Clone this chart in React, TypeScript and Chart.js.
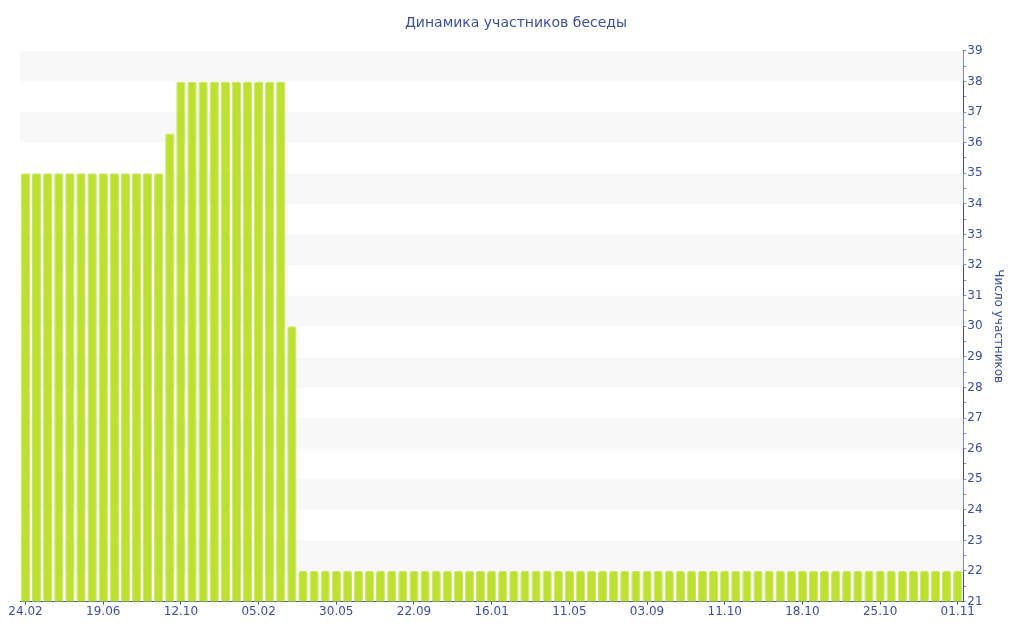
import React, { useEffect, useRef } from "react";
import { Chart, registerables } from "chart.js";

Chart.register(...registerables);

const TITLE = "Динамика участников беседы";
const Y_TITLE = "Число участников";

const tickLabels = ["24.02", "19.06", "12.10", "05.02", "30.05", "22.09", "16.01", "11.05", "03.09", "11.10", "18.10", "25.10", "01.11"];
const tickEvery = 7;

const values = [
  35, 35, 35, 35, 35, 35, 35, 35, 35, 35, 35, 35, 35,
  36.3,
  38, 38, 38, 38, 38, 38, 38, 38, 38, 38,
  30,
  22, 22, 22, 22, 22, 22, 22, 22, 22, 22,
  22, 22, 22, 22, 22, 22, 22, 22, 22, 22,
  22, 22, 22, 22, 22, 22, 22, 22, 22, 22,
  22, 22, 22, 22, 22, 22, 22, 22, 22, 22,
  22, 22, 22, 22, 22, 22, 22, 22, 22, 22,
  22, 22, 22, 22, 22, 22, 22, 22, 22, 22,
];

const labels = values.map((_, i) => (i % tickEvery === 0 ? tickLabels[i / tickEvery] ?? "" : ""));

const Y_MIN = 21;
const Y_MAX = 39;

const TEXT = "#3c4f9c";
const BAR = "#bde031";
const BAND = "#f8f8f8";
const FONT = "'DejaVu Sans', Verdana, sans-serif";

const bandPlugin = {
  id: "bands",
  beforeDatasetsDraw(chart: any) {
    const { ctx, chartArea, scales } = chart;
    const y = scales.y;
    ctx.save();
    ctx.fillStyle = BAND;
    for (let v = Y_MIN + 1; v < Y_MAX; v += 2) {
      const top = y.getPixelForValue(v + 1);
      const bottom = y.getPixelForValue(v);
      ctx.fillRect(chartArea.left, top, chartArea.right - chartArea.left, bottom - top);
    }
    ctx.restore();
  },
};

export default function App() {
  const ref = useRef<HTMLCanvasElement>(null);
  useEffect(() => {
    const chart = new Chart(ref.current!, {
      type: "bar",
      data: {
        labels,
        datasets: [
          {
            data: values,
            backgroundColor: BAR,
            borderColor: "#c9e65f",
            borderWidth: 1,
            borderRadius: 2,
            barPercentage: 0.84,
            categoryPercentage: 1,
          },
        ],
      },
      plugins: [bandPlugin],
      options: {
        animation: false,
        responsive: false,
        maintainAspectRatio: false,
        layout: { padding: { left: 20, right: 12, top: 0, bottom: 21 } },
        plugins: {
          legend: { display: false },
          tooltip: { enabled: false },
          title: {
            display: true,
            text: TITLE,
            color: TEXT,
            font: { family: FONT, size: 14, weight: "normal" },
            padding: { top: 15, bottom: 19 },
          },
        },
        scales: {
          x: {
            offset: true,
            border: { color: TEXT, width: 1 },
            grid: { display: true, drawOnChartArea: false, drawTicks: true, tickLength: 3, color: TEXT, offset: false },
            ticks: {
              autoSkip: false,
              maxRotation: 0,
              minRotation: 0,
              color: TEXT,
              padding: 0,
              font: { family: FONT, size: 12 },
              callback: (_v: any, i: number) => (labels[i] ? labels[i] : null),
            },
          },
          y: {
            position: "right",
            min: Y_MIN,
            max: Y_MAX,
            border: { color: TEXT, width: 1 },
            grid: { display: true, drawOnChartArea: false, drawTicks: true, tickLength: 3, color: "#8a93b8" },
            ticks: {
              stepSize: 0.5,
              autoSkip: false,
              maxTicksLimit: 1000,
              color: TEXT,
              padding: 1,
              font: { family: FONT, size: 12 },
              callback: (v: any) => (Number.isInteger(v) ? String(v) : ""),
            },
            title: {
              display: true,
              text: Y_TITLE,
              color: TEXT,
              font: { family: FONT, size: 12 },
              padding: { top: 7, bottom: 7 },
            },
          },
        },
      },
    });
    return () => chart.destroy();
  }, []);
  return (
    <div style={{ position: "fixed", left: 0, top: 0, width: 1024, height: 640, background: "#fff" }}>
      <canvas ref={ref} width={1024} height={640} style={{ width: 1024, height: 640 }} />
    </div>
  );
}
